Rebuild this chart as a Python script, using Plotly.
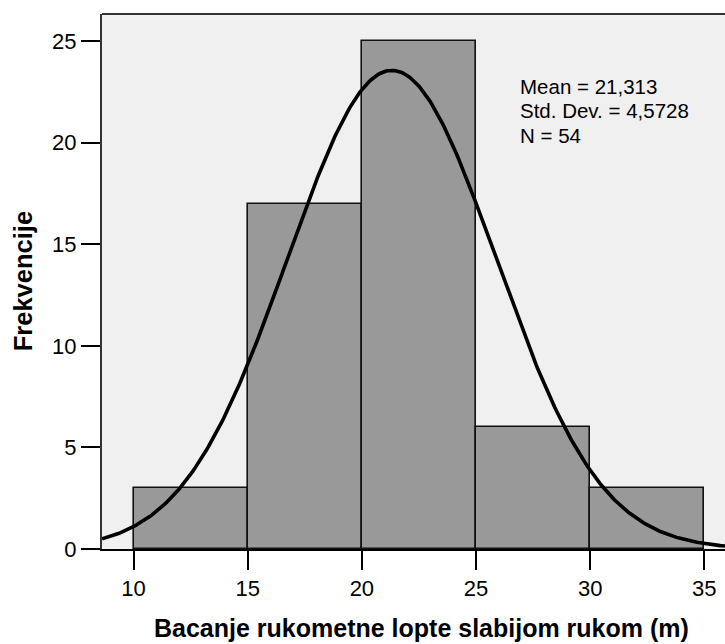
import numpy as np
import plotly.graph_objects as go

bin_edges = [10, 15, 20, 25, 30, 35]
counts = [3, 17, 25, 6, 3]
mean_val = 21.313
std_val = 4.5728
n_val = 54
x_tick_vals = [10, 15, 20, 25, 30, 35]
y_tick_vals = [0, 5, 10, 15, 20, 25]
x_title = "Bacanje rukometne lopte slabijom rukom (m)"
y_title = "Frekvencije"
stats_lines = ["Mean = 21,313", "Std. Dev. = 4,5728", "N = 54"]

x_range = [8.617, 35.906]
y_range = [0, 26.33]

centers = [(a + b) / 2 for a, b in zip(bin_edges[:-1], bin_edges[1:])]
widths = [b - a for a, b in zip(bin_edges[:-1], bin_edges[1:])]
bw = widths[0]

xs = np.linspace(x_range[0], x_range[1], 400)
ys = n_val * bw / (std_val * np.sqrt(2 * np.pi)) * np.exp(-0.5 * ((xs - mean_val) / std_val) ** 2)

fig = go.Figure()
fig.add_trace(go.Bar(
    x=centers, y=counts, width=widths,
    marker=dict(color="#999999", line=dict(color="#111111", width=1.6)),
    hoverinfo="skip",
))
fig.add_trace(go.Scatter(
    x=xs, y=ys, mode="lines",
    line=dict(color="#000000", width=3.6),
    hoverinfo="skip",
))

font_family = "Liberation Sans, Arial, sans-serif"

annotations = [
    dict(text=x_title, xref="paper", yref="paper", x=0.5134, y=-0.147,
         xanchor="center", yanchor="middle", showarrow=False,
         font=dict(size=25, family=font_family, color="#000000", weight="bold")),
    dict(text=y_title, xref="paper", yref="paper", x=-0.1263, y=0.501,
         xanchor="center", yanchor="middle", showarrow=False, textangle=-90,
         font=dict(size=25.5, family=font_family, color="#000000", weight="bold")),
]
stat_ys = [0.8644, 0.8195, 0.7728]
for line, yy in zip(stats_lines, stat_ys):
    annotations.append(dict(
        text=line, xref="paper", yref="paper", x=0.668, y=yy,
        xanchor="left", yanchor="middle", align="left", showarrow=False,
        font=dict(size=20.5, family=font_family, color="#000000"),
    ))

fig.update_layout(
    width=725, height=644,
    margin=dict(l=102, r=0, t=14, b=95),
    paper_bgcolor="#ffffff",
    plot_bgcolor="#f0f0f0",
    showlegend=False,
    bargap=0,
    font=dict(family=font_family, color="#000000"),
    xaxis=dict(
        range=x_range, tickvals=x_tick_vals, ticktext=[str(v) for v in x_tick_vals],
        ticks="outside", ticklen=19, tickwidth=1.6, tickcolor="#000000",
        showline=True, linecolor="#000000", linewidth=2, mirror=False,
        showgrid=False, zeroline=False,
        tickfont=dict(size=22, family=font_family),
    ),
    yaxis=dict(
        range=y_range, tickvals=y_tick_vals, ticktext=[str(v) for v in y_tick_vals],
        ticks="outside", ticklen=19, tickwidth=1.6, tickcolor="#000000",
        showline=True, linecolor="#333333", linewidth=2,
        showgrid=False, zeroline=False,
        tickfont=dict(size=22, family=font_family),
    ),
    shapes=[dict(type="line", xref="paper", yref="paper", x0=0, x1=1, y0=1, y1=1,
                 line=dict(color="#333333", width=2))],
    annotations=annotations,
)

fig.write_html("out.html")
